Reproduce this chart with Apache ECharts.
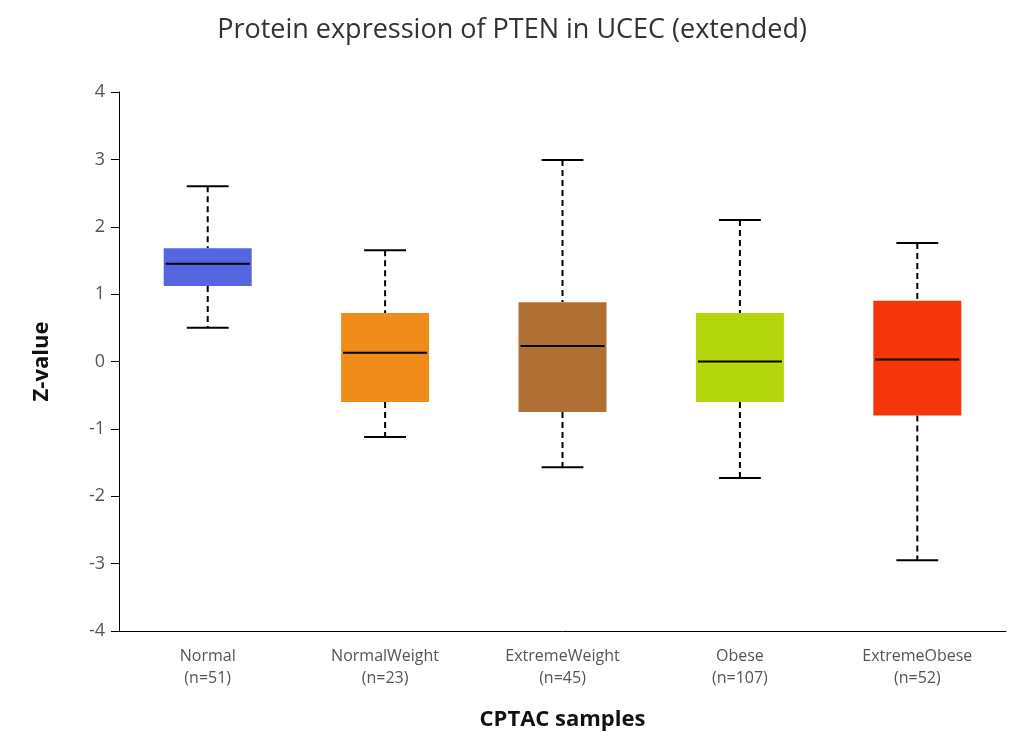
<!DOCTYPE html>
<html><head><meta charset="utf-8">
<script src="https://cdn.jsdelivr.net/npm/echarts@6/dist/echarts.min.js"></script>
<style>html,body{margin:0;padding:0;background:#fff}#c{width:1024px;height:743px}</style>
</head><body><div id="c"></div>
<script>
const categories = ['Normal\n(n=51)','NormalWeight\n(n=23)','ExtremeWeight\n(n=45)','Obese\n(n=107)','ExtremeObese\n(n=52)'];
const lowWhisker = [0.50,-1.12,-1.57,-1.73,-2.95];
const q1 = [1.12,-0.60,-0.75,-0.60,-0.80];
const median = [1.45,0.13,0.23,0.00,0.03];
const q3 = [1.68,0.72,0.88,0.72,0.90];
const highWhisker = [2.60,1.65,2.99,2.10,1.76];
const colors = ['#5566e2','#f08c1a','#b07033','#b4d60c','#f4360a'];
const data = categories.map((c,i)=>[i,lowWhisker[i],q1[i],median[i],q3[i],highWhisker[i]]);
const chart = echarts.init(document.getElementById('c'));
chart.setOption({
  animation:false,
  title:{text:'Protein expression of PTEN in UCEC (extended)',left:'center',top:12,textStyle:{fontSize:27,fontWeight:'normal',color:'#333',fontFamily:'Open Sans'}},
  grid:{left:119,right:18,top:92,bottom:112},
  xAxis:{type:'category',data:categories,name:'CPTAC samples',nameLocation:'middle',nameGap:78,
    nameTextStyle:{fontSize:22,fontWeight:'bold',color:'#111',fontFamily:'Open Sans'},
    axisLine:{onZero:false,lineStyle:{color:'#000',width:1}},axisTick:{lineStyle:{color:'#aac0dd'},length:12},
    axisLabel:{fontSize:16,color:'#555',lineHeight:22,margin:14,fontFamily:'Open Sans'}},
  yAxis:{type:'value',min:-4,max:4,interval:1,name:'Z-value',nameLocation:'middle',nameGap:66,
    nameTextStyle:{fontSize:22,fontWeight:'bold',color:'#111',fontFamily:'Open Sans'},
    axisLine:{show:true,lineStyle:{color:'#000'}},axisTick:{show:true,length:8,lineStyle:{color:'#000'}},
    splitLine:{show:false},axisLabel:{fontSize:18,color:'#555',margin:14,fontFamily:'Open Sans'}},
  series:[{type:'custom',data:data,encode:{x:0,y:[1,2,3,4,5]},
    renderItem:function(params,api){
      const i=api.value(0);
      const bw=api.size([1,0])[0];
      const pLo=api.coord([i,api.value(1)]),pQ1=api.coord([i,api.value(2)]),pM=api.coord([i,api.value(3)]),
        pQ3=api.coord([i,api.value(4)]),pHi=api.coord([i,api.value(5)]);
      const x=pM[0],half=bw*0.248,cap=bw*0.118;
      const ls={stroke:'#000',lineWidth:2};
      const ds={stroke:'#000',lineWidth:2,lineDash:[6,4]};
      return {type:'group',children:[
        {type:'line',shape:{x1:x,y1:pHi[1],x2:x,y2:pQ3[1]},style:ds},
        {type:'line',shape:{x1:x,y1:pQ1[1],x2:x,y2:pLo[1]},style:ds},
        {type:'line',shape:{x1:x-cap,y1:pHi[1],x2:x+cap,y2:pHi[1]},style:ls},
        {type:'line',shape:{x1:x-cap,y1:pLo[1],x2:x+cap,y2:pLo[1]},style:ls},
        {type:'rect',shape:{x:x-half,y:pQ3[1],width:half*2,height:pQ1[1]-pQ3[1]},style:{fill:colors[i]}},
        {type:'line',shape:{x1:x-half+2,y1:pM[1],x2:x+half-2,y2:pM[1]},style:ls}
      ]};
    }}]
});
</script></body></html>
